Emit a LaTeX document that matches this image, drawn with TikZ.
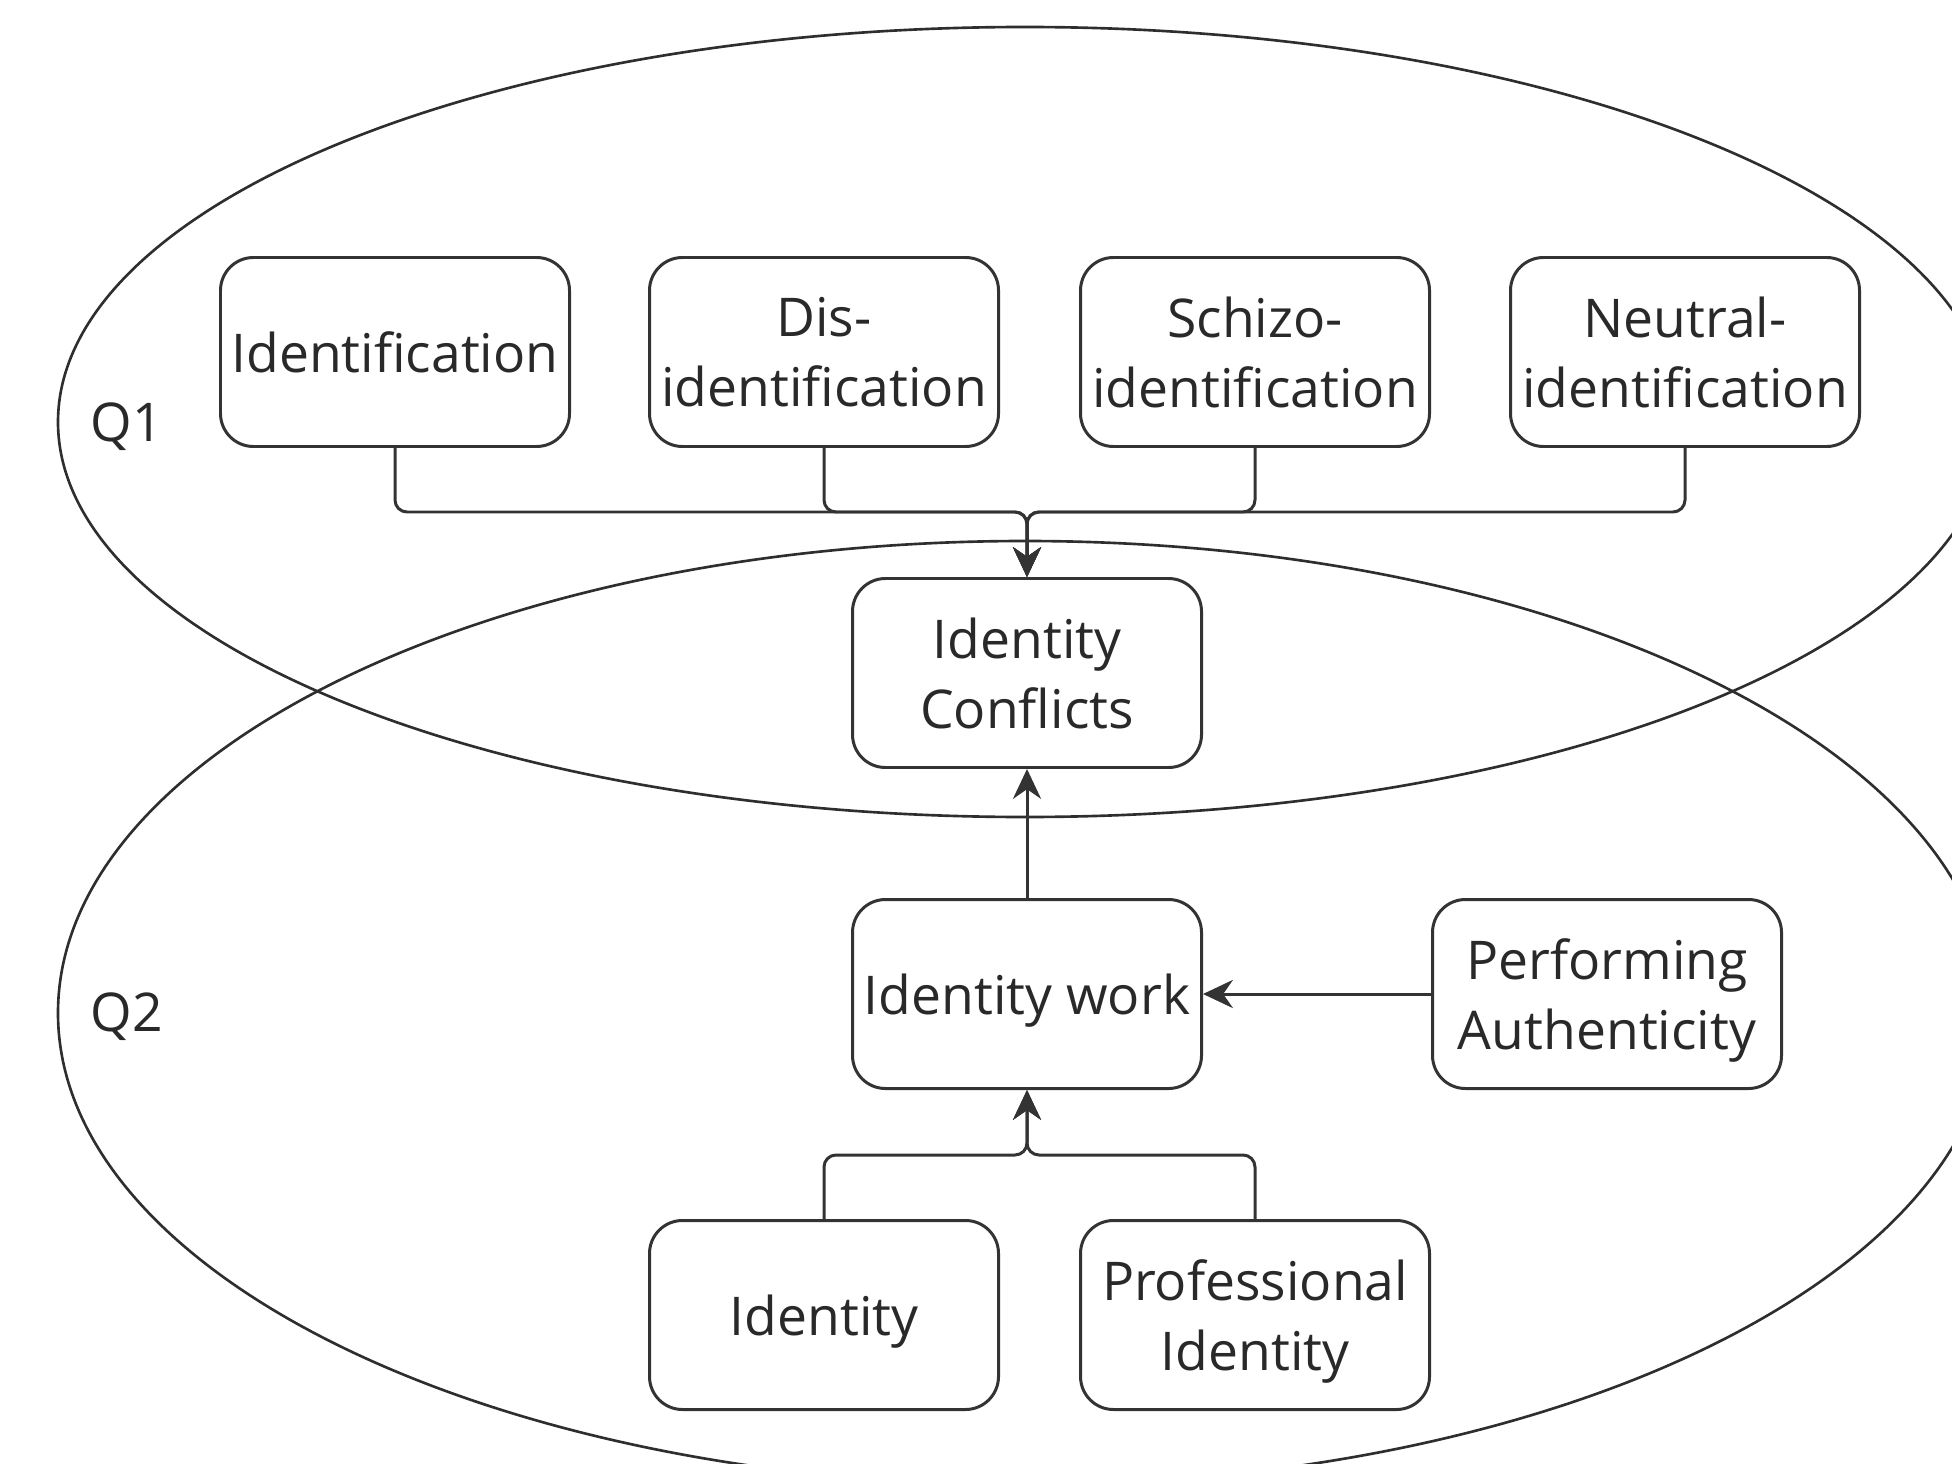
\documentclass[tikz,border=0pt]{standalone}
\usepackage{fontspec}
\setmainfont{Open Sans}
\usetikzlibrary{arrows.meta}
\definecolor{ink}{HTML}{333333}
\tikzset{
  box/.style={draw=ink, line width=0.85pt, rounded corners=0.33cm, minimum width=3.49cm, minimum height=1.89cm, align=center, inner sep=0pt, text depth=0pt, font=\fontsize{15.2pt}{20pt}\selectfont, text=ink!80!black},
  conn/.style={draw=ink, line width=0.85pt, rounded corners=0.12cm},
  tip/.style={-{Stealth[length=8.5pt,width=8pt]}},
  qlabel/.style={font=\fontsize{15.2pt}{20pt}\selectfont, text=ink!80!black},
  oval/.style={draw=ink!90!black, line width=0.75pt}
}
\begin{document}
\begin{tikzpicture}
\useasboundingbox (0,0) rectangle (19.52,-14.64);
\begin{scope}
\clip (0,0) rectangle (19.52,-14.64);
\draw[oval] (10.25,-4.22) ellipse [x radius=9.67, y radius=3.95];
\draw[oval] (10.25,-10.13) ellipse [x radius=9.67, y radius=4.72];
\end{scope}
\node[qlabel] (q1) at (1.27,-4.27) {Q1};
\node[qlabel] (q2) at (1.27,-10.17) {Q2};
\node[box] (ident) at (3.95,-3.52) {Identification};
\node[box] (dis) at (8.24,-3.52) {Dis-\\identification};
\node[box] (schizo) at (12.55,-3.52) {Schizo-\\identification};
\node[box] (neutral) at (16.85,-3.52) {Neutral-\\identification};
\node[box] (conf) at (10.27,-6.73) {Identity\\Conflicts};
\node[box] (work) at (10.27,-9.94) {Identity work};
\node[box] (perf) at (16.07,-9.94) {Performing\\Authenticity};
\node[box] (id) at (8.24,-13.15) {Identity};
\node[box] (prof) at (12.55,-13.15) {Professional\\Identity};
\coordinate (bustop) at (10.27,-5.12);
\coordinate (busbot) at (10.27,-11.55);
\foreach \n in {ident,dis,schizo,neutral}{
  \draw[conn,tip] (\n.south) -- (\n.south |- bustop) -- (bustop) -- (conf.north);
}
\foreach \n in {id,prof}{
  \draw[conn,tip] (\n.north) -- (\n.north |- busbot) -- (busbot) -- (work.south);
}
\draw[conn,tip] (work.north) -- (conf.south);
\draw[conn,tip] (perf.west) -- (work.east);
\end{tikzpicture}
\end{document}
